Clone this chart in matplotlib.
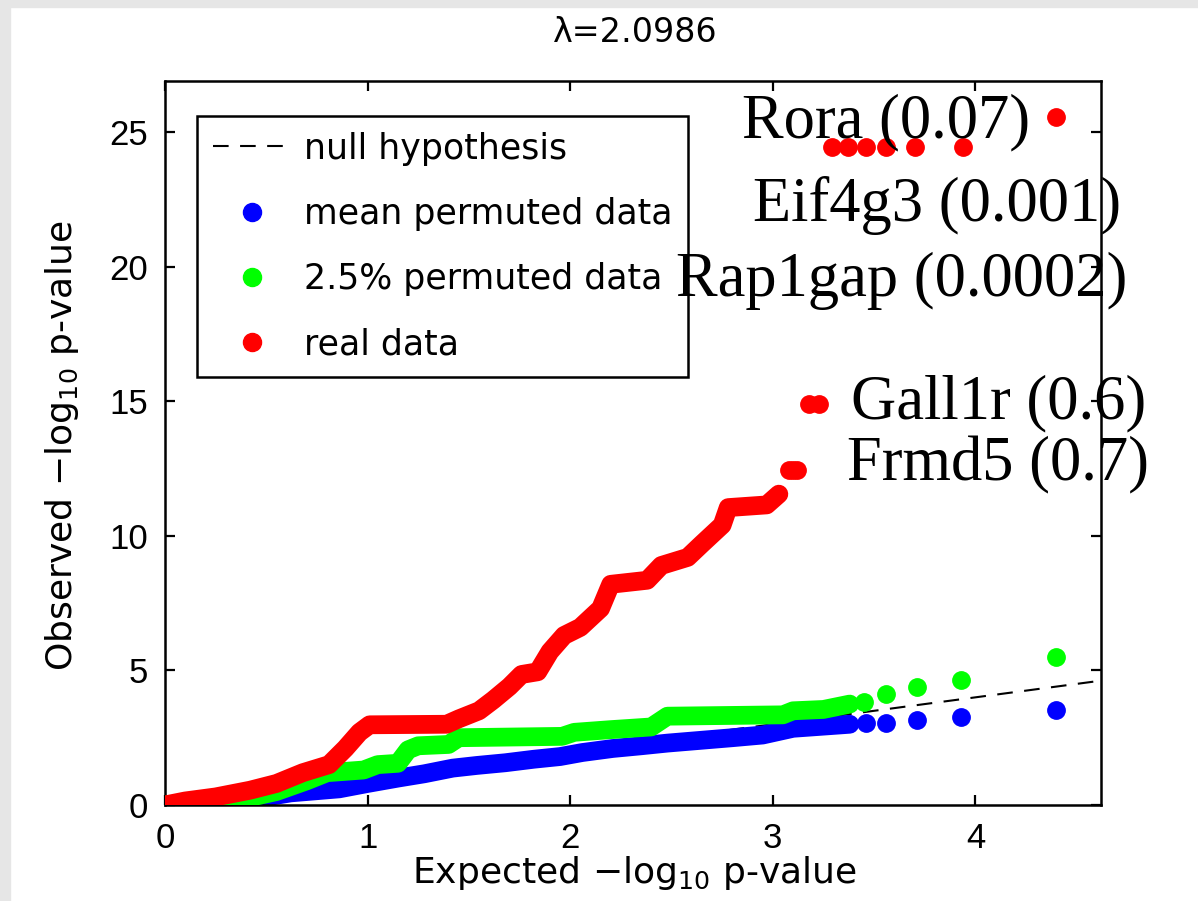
import matplotlib
matplotlib.use('Agg')
import matplotlib.pyplot as plt
from matplotlib.lines import Line2D
from matplotlib.patches import Rectangle

# expected vs observed -log10 p
real_x = [0.0, 0.1, 0.25, 0.42, 0.55, 0.68, 0.81, 0.89, 0.96, 1.01, 1.39, 1.45, 1.55,
          1.62, 1.7, 1.76, 1.84, 1.9, 1.97, 2.05, 2.1, 2.15, 2.2, 2.38, 2.45, 2.58,
          2.65, 2.75, 2.78, 2.97, 3.03]
real_y = [0.0, 0.15, 0.3, 0.55, 0.8, 1.2, 1.5, 2.1, 2.7, 2.98, 3.0, 3.2, 3.5,
          3.9, 4.4, 4.85, 4.95, 5.7, 6.3, 6.6, 6.95, 7.3, 8.2, 8.35, 8.9, 9.2,
          9.7, 10.4, 11.05, 11.15, 11.55]
real_tail_x = [3.08, 3.10, 3.12, 3.18, 3.23, 3.29, 3.37, 3.46, 3.56, 3.70, 3.94, 4.40]
real_tail_y = [12.45, 12.45, 12.45, 14.9, 14.9, 24.46, 24.46, 24.46, 24.46, 24.46, 24.46, 25.58]

green_x = [0.0, 0.1, 0.25, 0.4, 0.55, 0.7, 0.8, 0.98, 1.05, 1.15, 1.2, 1.25, 1.4, 1.45,
           1.96, 2.02, 2.2, 2.4, 2.48, 3.05, 3.1, 3.25, 3.38]
green_y = [0.0, 0.05, 0.12, 0.25, 0.5, 0.9, 1.2, 1.3, 1.5, 1.55, 2.05, 2.2, 2.25, 2.5,
           2.55, 2.7, 2.8, 2.9, 3.3, 3.35, 3.5, 3.55, 3.75]
green_tail_x = [3.45, 3.56, 3.71, 3.93, 4.40]
green_tail_y = [3.83, 4.12, 4.39, 4.65, 5.5]

blue_x = [0.0, 0.2, 0.38, 0.5, 0.62, 0.86, 1.0, 1.15, 1.28, 1.42, 1.54, 1.68, 1.82,
          1.95, 2.06, 2.21, 2.35, 2.48, 2.64, 2.8, 2.95, 3.1, 3.38]
blue_y = [0.0, 0.05, 0.15, 0.3, 0.45, 0.6, 0.8, 1.0, 1.16, 1.37, 1.47, 1.57, 1.7,
          1.8, 1.95, 2.1, 2.2, 2.3, 2.4, 2.5, 2.6, 2.85, 3.0]
blue_tail_x = [3.46, 3.56, 3.71, 3.93, 4.40]
blue_tail_y = [3.05, 3.06, 3.16, 3.27, 3.53]

null_x = [0, 4.62]
null_y = [0, 4.62]

genes = ['Rora (0.07)', 'Eif4g3 (0.001)', 'Rap1gap (0.0002)', 'Gall1r (0.6)', 'Frmd5 (0.7)']
gene_pos = [(2.85, 24.81), (2.904, 21.71), (2.523, 18.92), (3.388, 14.36), (3.368, 12.04)]

legend_labels = ['null hypothesis', 'mean permuted data', '2.5% permuted data', 'real data']

fig = plt.figure(figsize=(11.98, 9.01), dpi=100)
fig.patch.set_facecolor('white')
fig.patches.append(Rectangle((0, 0), 10 / 1198, 1, transform=fig.transFigure,
                             color='#e6e6e6', zorder=0))
fig.patches.append(Rectangle((0, 1 - 7 / 901), 1, 7 / 901, transform=fig.transFigure,
                             color='#e6e6e6', zorder=0))

ax = fig.add_axes([165 / 1198, 96 / 901, 936 / 1198, 724 / 901])

lw = 13.5
ax.plot(null_x, null_y, color='black', lw=1.5, linestyle=(0, (7.5, 5.5)), zorder=1)
ax.plot(blue_x, blue_y, color='#0000ff', lw=lw, solid_capstyle='round', zorder=2)
ax.plot(blue_tail_x, blue_tail_y, 'o', color='#0000ff', ms=12.5, zorder=2)
ax.plot(green_x, green_y, color='#00ff00', lw=lw, solid_capstyle='round', zorder=3)
ax.plot(green_tail_x, green_tail_y, 'o', color='#00ff00', ms=12.5, zorder=3)
ax.plot(real_x, real_y, color='#ff0000', lw=lw, solid_capstyle='round', zorder=4)
ax.plot(real_tail_x, real_tail_y, 'o', color='#ff0000', ms=12.5, zorder=4)

for name, (gx, gy) in zip(genes, gene_pos):
    ax.text(gx, gy, name, family='Liberation Serif', fontsize=45,
            ha='left', va='baseline', zorder=6)

ax.set_xlim(0, 4.62)
ax.set_ylim(0, 26.9)
ax.set_xticks([0, 1, 2, 3, 4])
ax.set_yticks([0, 5, 10, 15, 20, 25])
ax.tick_params(direction='in', length=7, width=1.6, top=True, right=True,
               labelsize=25, pad=12)
for lab in ax.get_xticklabels() + ax.get_yticklabels():
    lab.set_family('Liberation Sans')
for s in ax.spines.values():
    s.set_linewidth(1.8)

handles = [Line2D([], [], color='black', lw=1.5, linestyle=(0, (7.5, 5.5))),
           Line2D([], [], ls='none', marker='o', color='#0000ff', ms=13),
           Line2D([], [], ls='none', marker='o', color='#00ff00', ms=13),
           Line2D([], [], ls='none', marker='o', color='#ff0000', ms=13)]
leg = ax.legend(handles, legend_labels, loc='upper left',
                bbox_to_anchor=((197 - 165) / 936, (805 - 116) / 724),
                borderaxespad=0, fancybox=False, framealpha=1, edgecolor='black',
                prop={'family': 'DejaVu Sans', 'size': 25},
                handlelength=2.25, handletextpad=0.37, labelspacing=0.9,
                borderpad=0.45)
leg.get_frame().set_linewidth(1.8)
leg.set_zorder(5)

fig.text(635 / 1198, 1 - 32 / 901, 'λ=2.0986', ha='center', va='center',
         family='DejaVu Sans', fontsize=24)
fig.text(635 / 1198, 1 - 883 / 901, 'Expected −log$_{10}$ p-value', ha='center',
         va='baseline', family='DejaVu Sans', fontsize=26)
fig.text(62 / 1198, 1 - 446 / 901, 'Observed −log$_{10}$ p-value', ha='center',
         va='center', rotation=90, family='DejaVu Sans', fontsize=26)

fig.savefig('out.png', dpi=100)
